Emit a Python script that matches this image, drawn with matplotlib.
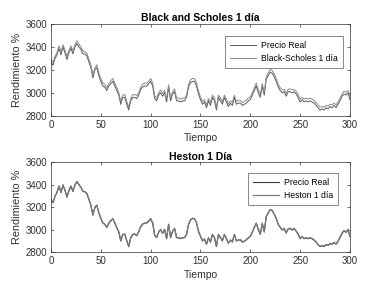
import numpy as np
import matplotlib
matplotlib.use("Agg")
import matplotlib.pyplot as plt

plt.rcParams['font.family'] = ['Liberation Sans', 'DejaVu Sans']

t = list(range(0, 301, 2))

precio_real = [3270, 3240, 3300, 3330, 3390, 3330, 3400, 3350, 3290, 3350,
               3390, 3340, 3400, 3430, 3400, 3380, 3340, 3340, 3320, 3270,
               3220, 3130, 3200, 3220, 3150, 3100, 3060, 3050, 3020, 3060,
               3080, 3100, 3060, 3020, 2980, 2900, 2960, 2960, 2900, 2850,
               2930, 2960, 2960, 2950, 2980, 3030, 3050, 3060, 3060, 3080,
               3100, 3060, 2950, 2930, 2980, 3000, 2970, 3000, 2920, 3050,
               2930, 2990, 3010, 2930, 2930, 2920, 2930, 2930, 2960, 3050,
               3090, 3100, 3100, 3060, 2990, 2940, 2900, 2920, 2870, 2930,
               2890, 2960, 2930, 2850, 2960, 2930, 2900, 2960, 2920, 2880,
               2910, 2890, 2960, 2900, 2910, 2910, 2890, 2900, 2910, 2930,
               2940, 2980, 3020, 3060, 3000, 2960, 3060, 2980, 3120, 3150,
               3180, 3170, 3140, 3100, 3050, 3020, 3000, 3010, 2970, 3010,
               3010, 3000, 3010, 2990, 2960, 2920, 2940, 2920, 2930, 2920,
               2930, 2920, 2910, 2890, 2870, 2850, 2860, 2850, 2870, 2860,
               2880, 2870, 2890, 2870, 2900, 2930, 2970, 2990, 2980, 3000,
               2940]

black_scholes = [3290, 3265, 3320, 3350, 3410, 3355, 3420, 3375, 3315, 3370,
                 3410, 3365, 3420, 3455, 3425, 3400, 3365, 3360, 3345, 3295,
                 3245, 3155, 3220, 3245, 3175, 3125, 3085, 3075, 3045, 3080,
                 3105, 3125, 3085, 3045, 3005, 2925, 2980, 2985, 2925, 2875,
                 2950, 2985, 2985, 2975, 3000, 3050, 3075, 3085, 3085, 3100,
                 3125, 3085, 2975, 2955, 3000, 3025, 2995, 3020, 2945, 3070,
                 2955, 3010, 3035, 2955, 2955, 2945, 2955, 2955, 2980, 3070,
                 3115, 3125, 3125, 3085, 3015, 2965, 2925, 2940, 2895, 2950,
                 2915, 2980, 2955, 2875, 2980, 2955, 2925, 2980, 2945, 2905,
                 2930, 2915, 2980, 2925, 2935, 2935, 2915, 2925, 2935, 2955,
                 2965, 3000, 3045, 3085, 3025, 2985, 3080, 3005, 3140, 3175,
                 3205, 3195, 3165, 3125, 3075, 3045, 3025, 3030, 2995, 3030,
                 3035, 3025, 3030, 3015, 2985, 2945, 2960, 2945, 2955, 2945,
                 2955, 2945, 2935, 2915, 2895, 2875, 2880, 2875, 2890, 2885,
                 2900, 2895, 2910, 2895, 2920, 2950, 2990, 3015, 3005, 3020,
                 2965]

heston = [3265, 3245, 3295, 3335, 3385, 3335, 3395, 3355, 3295, 3345,
          3385, 3345, 3395, 3425, 3405, 3375, 3345, 3335, 3325, 3275,
          3215, 3135, 3195, 3215, 3155, 3105, 3065, 3045, 3025, 3055,
          3085, 3095, 3065, 3015, 2985, 2905, 2955, 2965, 2905, 2855,
          2925, 2955, 2965, 2945, 2985, 3025, 3055, 3055, 3065, 3075,
          3095, 3065, 2955, 2935, 2975, 3005, 2965, 3005, 2925, 3045,
          2935, 2985, 3015, 2935, 2925, 2925, 2925, 2935, 2955, 3045,
          3085, 3105, 3095, 3065, 2985, 2945, 2905, 2915, 2875, 2925,
          2895, 2955, 2935, 2855, 2955, 2935, 2905, 2955, 2925, 2885,
          2905, 2895, 2955, 2905, 2905, 2915, 2895, 2895, 2915, 2925,
          2945, 2975, 3025, 3055, 3005, 2965, 3055, 2985, 3115, 3155,
          3175, 3175, 3135, 3105, 3045, 3025, 2995, 3015, 2975, 3005,
          3015, 2995, 3015, 2985, 2965, 2925, 2935, 2925, 2925, 2925,
          2925, 2925, 2905, 2895, 2865, 2855, 2855, 2855, 2865, 2865,
          2875, 2875, 2885, 2875, 2895, 2935, 2965, 2995, 2975, 3005,
          2945]

xticks = [0, 50, 100, 150, 200, 250, 300]
yticks = [2800, 3000, 3200, 3400, 3600]

fig = plt.figure(figsize=(3.68, 2.83), dpi=100)
ax1 = fig.add_axes([0.1386, 0.591, 0.8124, 0.324])
ax2 = fig.add_axes([0.1386, 0.1085, 0.8124, 0.318])

def style(ax, title):
    ax.set_xlim(0, 300)
    ax.set_ylim(2800, 3600)
    ax.set_xticks(xticks)
    ax.set_yticks(yticks)
    ax.tick_params(direction='in', top=True, right=True, labelsize=7,
                   length=2.5, width=0.5, colors='#303030', pad=3)
    for s in ax.spines.values():
        s.set_linewidth(0.5)
        s.set_color('#303030')
    ax.set_title(title, fontsize=7.5, fontweight='bold', pad=2)
    ax.set_xlabel('Tiempo', fontsize=7.5, labelpad=2.5, color='#303030')
    ax.set_ylabel('Rendimiento %', fontsize=7.8, labelpad=2, color='#303030')

ax1.plot(t, precio_real, color='#5a5a5a', lw=0.7, label='Precio Real')
ax1.plot(t, black_scholes, color='#8a8a8a', lw=0.7, label='Black-Scholes 1 día')
style(ax1, 'Black and Scholes 1 día')
leg1 = ax1.legend(loc='upper right', fontsize=6.2, frameon=True, fancybox=False,
                  edgecolor='#303030', handlelength=3.0, borderpad=0.55,
                  labelspacing=0.45, handletextpad=0.6,
                  bbox_to_anchor=(0.99, 0.915))
leg1.get_frame().set_linewidth(0.5)

ax2.plot(t, precio_real, color='#3a3a3a', lw=0.8, label='Precio Real')
ax2.plot(t, heston, color='#7a7a7a', lw=0.9, label='Heston 1 día')
style(ax2, 'Heston 1 Día')
leg2 = ax2.legend(loc='upper right', fontsize=6.2, frameon=True, fancybox=False,
                  edgecolor='#303030', handlelength=3.0, borderpad=0.55,
                  labelspacing=0.45, handletextpad=0.6,
                  bbox_to_anchor=(0.973, 0.925))
leg2.get_frame().set_linewidth(0.5)

fig.savefig('out.png', dpi=100)
